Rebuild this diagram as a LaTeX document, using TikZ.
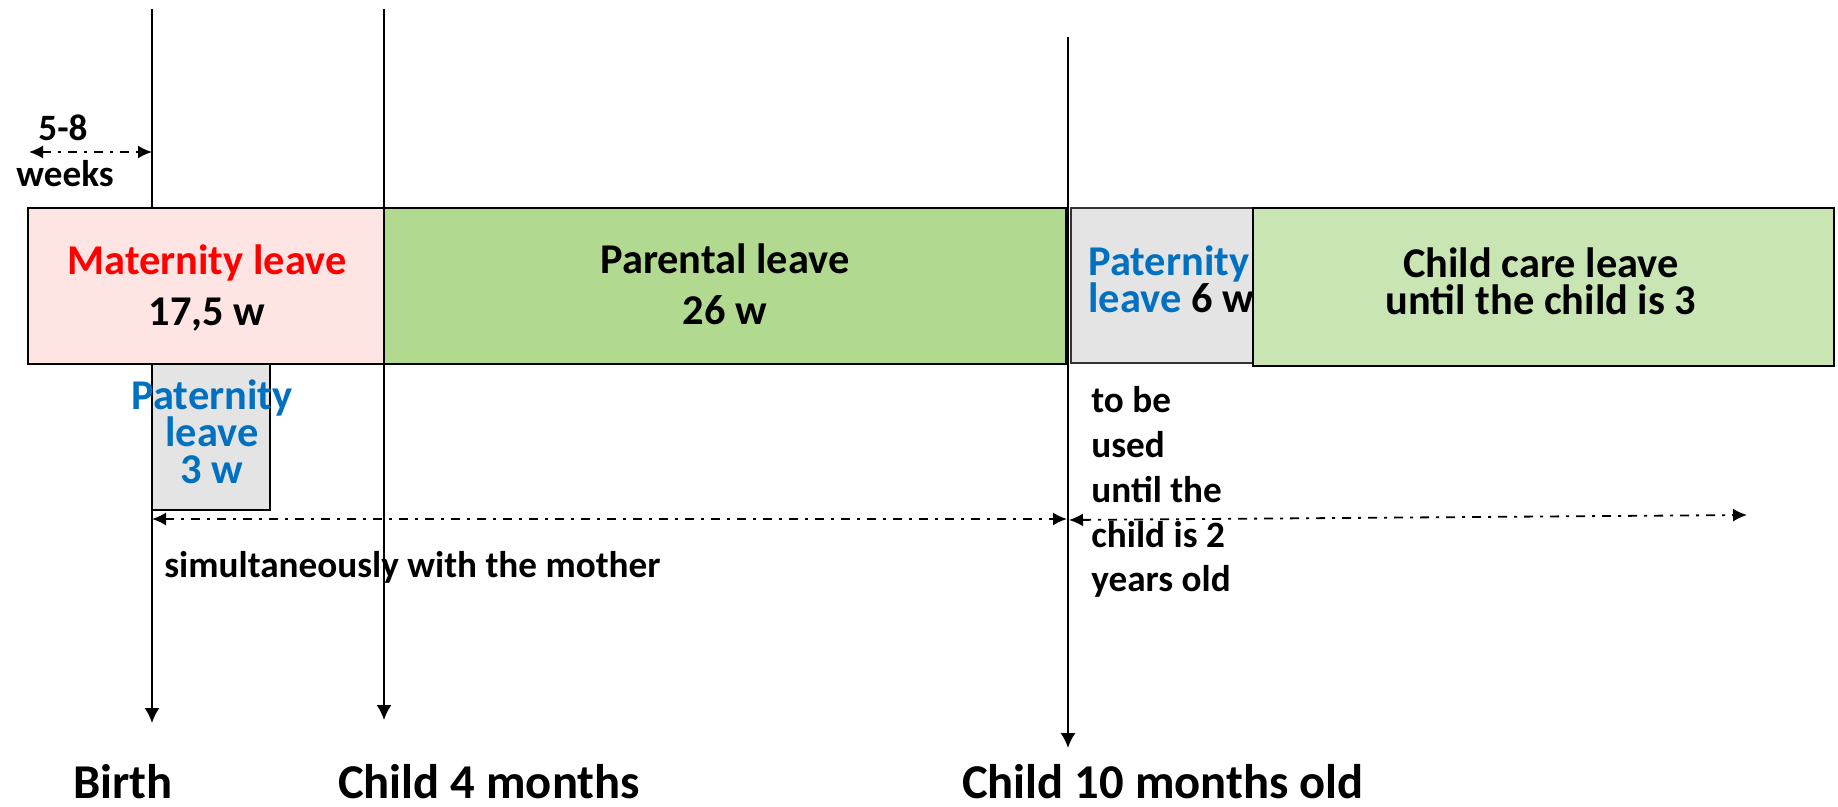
\documentclass[tikz,border=0pt]{standalone}
\usepackage{fontspec}
\setmainfont{Carlito}
\usetikzlibrary{arrows.meta}
\definecolor{matpink}{HTML}{FFE4E4}
\definecolor{pargreen}{HTML}{B1D990}
\definecolor{ccgreen}{HTML}{C9E5B4}
\definecolor{patgray}{HTML}{E4E4E4}
\definecolor{patblue}{HTML}{0070C0}
\definecolor{matred}{HTML}{FF0000}
\begin{document}
\begin{tikzpicture}[x=0.5pt,y=-0.5pt,
  box/.style={draw=black, line width=1.3pt, anchor=north west, inner sep=0pt, outer sep=0pt},
  vline/.style={draw=black, line width=0.9pt, -{Latex[length=7.5pt,width=7.5pt]}},
  span/.style={draw=black, line width=0.9pt, dash pattern=on 4.5pt off 3.5pt on 1.5pt off 3.5pt, {Latex[length=7pt,width=6.5pt]}-{Latex[length=7pt,width=6.5pt]}},
  wide/.style={font=\fontsize{21.2}{25.5}\selectfont\bfseries, align=center, anchor=base, inner sep=0pt},
  tight/.style={font=\fontsize{21.2}{18.5}\selectfont\bfseries, align=center, anchor=base, inner sep=0pt},
  note/.style={font=\fontsize{18.6}{22.4}\selectfont\bfseries, align=left, anchor=base west, inner sep=0pt},
  milestone/.style={font=\fontsize{24.3}{28}\selectfont\bfseries, anchor=base, inner sep=0pt}
]
\useasboundingbox (0,0) rectangle (1838,807);
% time lines
\coordinate (t1a) at (152,9);   \coordinate (t1b) at (152,723);
\coordinate (t2a) at (384,9);   \coordinate (t2b) at (384,720);
\coordinate (t3a) at (1068,37); \coordinate (t3b) at (1068,748);
\draw[vline] (t1a) -- (t1b);
\draw[vline] (t2a) -- (t2b);
\draw[vline] (t3a) -- (t3b);
% boxes
\node[box, fill=matpink, minimum width=178pt, minimum height=78pt] (mat) at (28,208) {};
\node[box, fill=pargreen, minimum width=341pt, minimum height=78pt] (par) at (384,208) {};
\node[box, fill=patgray, minimum width=59pt, minimum height=73pt] (pat1) at (152,364) {};
\node[box, fill=patgray, draw=black!80, line width=1pt, minimum width=91pt, minimum height=77.5pt] (pat2) at (1071,208) {};
\node[box, fill=ccgreen, minimum width=290.5pt, minimum height=79pt] (cc) at (1253,208) {};
% box texts (positioned at the baseline of their last line)
\node[wide] (mattxt) at (207,326) {\textcolor{matred}{Maternity leave}\\17,5 w};
\node[wide] (partxt) at (725,325) {Parental leave\\26 w};
\node[tight, text=patblue] (pat1txt) at (212,484) {Paternity\\leave\\3 w};
\node[tight, align=left, anchor=base west] (pat2txt) at (1088,313) {\textcolor{patblue}{Paternity}\\\textcolor{patblue}{leave} 6 w};
\node[tight] (cctxt) at (1541,315) {Child care leave\\until the child is 3};
% spans
\coordinate (w0) at (29,152); \coordinate (w1) at (152,152);
\draw[span] (w0) -- (w1);
\coordinate (s0) at (152,519); \coordinate (s1) at (1067,519);
\draw[span] (s0) -- (s1);
\coordinate (u0) at (1069,520); \coordinate (u1) at (1747,515);
\draw[span] (u0) -- (u1);
% notes
\node[note] (n58) at (38,141) {5-8};
\node[note] (nweeks) at (16,187) {weeks};
\node[note] (nsim) at (164,578) {simultaneously with the mother};
\node[note] (nuse) at (1091,592) {to be\\used\\until the\\child is 2\\years old};
% milestones
\node[milestone] (birth) at (123,798) {Birth};
\node[milestone] (m4) at (489,798) {Child 4 months};
\node[milestone] (m10) at (1163,798) {Child 10 months old};
\end{tikzpicture}
\end{document}
